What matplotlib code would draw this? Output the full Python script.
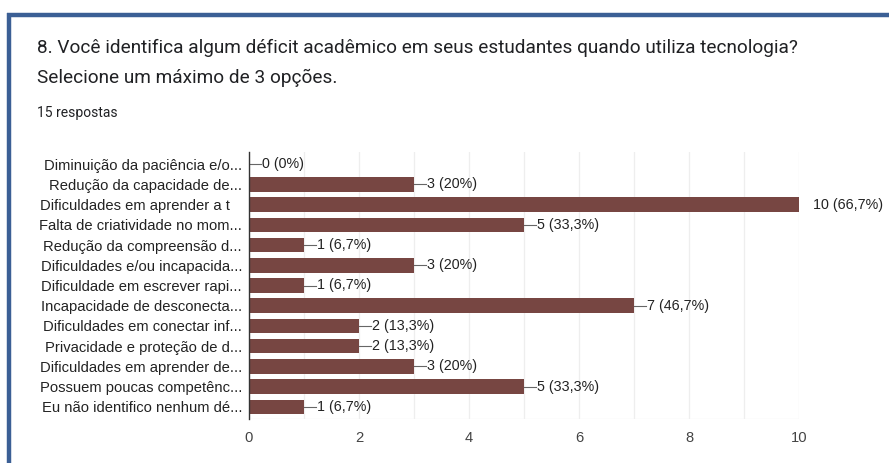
import matplotlib
matplotlib.use("Agg")
import matplotlib.pyplot as plt
from matplotlib.lines import Line2D

categories = [
    "Diminuição da paciência e/o...",
    "Redução da capacidade de...",
    "Dificuldades em aprender a t\u00a0\u00a0\u00a0",
    "Falta de criatividade no mom...",
    "Redução da compreensão d...",
    "Dificuldades e/ou incapacida...",
    "Dificuldade em escrever rapi...",
    "Incapacidade de desconecta...",
    "Dificuldades em conectar inf...",
    "Privacidade e proteção de d...",
    "Dificuldades em aprender de...",
    "Possuem poucas competênc...",
    "Eu não identifico nenhum dé...",
]
values = [0, 3, 10, 5, 1, 3, 1, 7, 2, 2, 3, 5, 1]
value_labels = ["0 (0%)", "3 (20%)", "10 (66,7%)", "5 (33,3%)", "1 (6,7%)", "3 (20%)",
                "1 (6,7%)", "7 (46,7%)", "2 (13,3%)", "2 (13,3%)", "3 (20%)",
                "5 (33,3%)", "1 (6,7%)"]
xticks = [0, 2, 4, 6, 8, 10]

W, H = 889, 463
fig = plt.figure(figsize=(W / 100, H / 100), dpi=100)
fig.patch.set_facecolor("white")

# blue frame (screenshot border)
blue = "#3b5f95"
fig.add_artist(Line2D([7 / W, W / W], [1 - 15 / H, 1 - 15 / H], color=blue, lw=3.2,
                      transform=fig.transFigure, solid_capstyle="butt"))
fig.add_artist(Line2D([9 / W, 9 / W], [0, 1 - 13 / H], color=blue, lw=3.2,
                      transform=fig.transFigure, solid_capstyle="butt"))

title_font = ["Roboto", "DejaVu Sans"]
fig.text(37 / W, 1 - 48 / H, "8. Você identifica algum déficit acadêmico em seus estudantes quando utiliza tecnologia?",
         fontsize=13.7, family=title_font, color="#202124", va="center", ha="left")
fig.text(37 / W, 1 - 78 / H, "Selecione um máximo de 3 opções.",
         fontsize=13.7, family=title_font, color="#202124", va="center", ha="left")
fig.text(37 / W, 1 - 113 / H, "15 respostas", fontsize=10, family=title_font,
         color="#202124", va="center", ha="left")

left, right, top, bottom = 249, 799, 152, 419
ax = fig.add_axes([left / W, 1 - bottom / H, (right - left) / W, (bottom - top) / H])
n = len(categories)
ypos = list(range(n))
bar_color = "#774642"
ax.barh(ypos, values, height=0.72, color=bar_color, zorder=3)
ax.set_ylim(n - 0.4, -0.6)
ax.set_xlim(0, 10)

for i, (v, lab) in enumerate(zip(values, value_labels)):
    if v >= 10:
        ax.text(v + 0.25, i, lab, va="center", ha="left", fontsize=10.3,
                family="Liberation Sans", color="#222222")
    else:
        ax.plot([v, v + 0.22], [i, i], color="#666666", lw=0.8, zorder=4)
        ax.text(v + 0.24, i, lab, va="center", ha="left", fontsize=10.3,
                family="Liberation Sans", color="#222222")

ax.set_yticks(ypos)
ax.set_yticklabels(categories, fontsize=10.6, family="Liberation Sans", color="#222222")
ax.set_xticks(xticks)
ax.set_xticklabels([str(t) for t in xticks], fontsize=10.6, family="Liberation Sans", color="#444444")
ax.tick_params(axis="both", length=0)
ax.tick_params(axis="y", pad=5)
ax.tick_params(axis="x", pad=9)
for t in range(0, 11):
    ax.axvline(t, color="#eeeeee", lw=0.9, zorder=1)
for s in ["top", "right", "bottom"]:
    ax.spines[s].set_visible(False)
ax.spines["left"].set_color("#333333")
ax.spines["left"].set_linewidth(1)
ax.spines["left"].set_zorder(5)
ax.axhline(n - 0.4, color="#eeeeee", lw=0.9, zorder=1)

fig.savefig("out.png", dpi=100)
